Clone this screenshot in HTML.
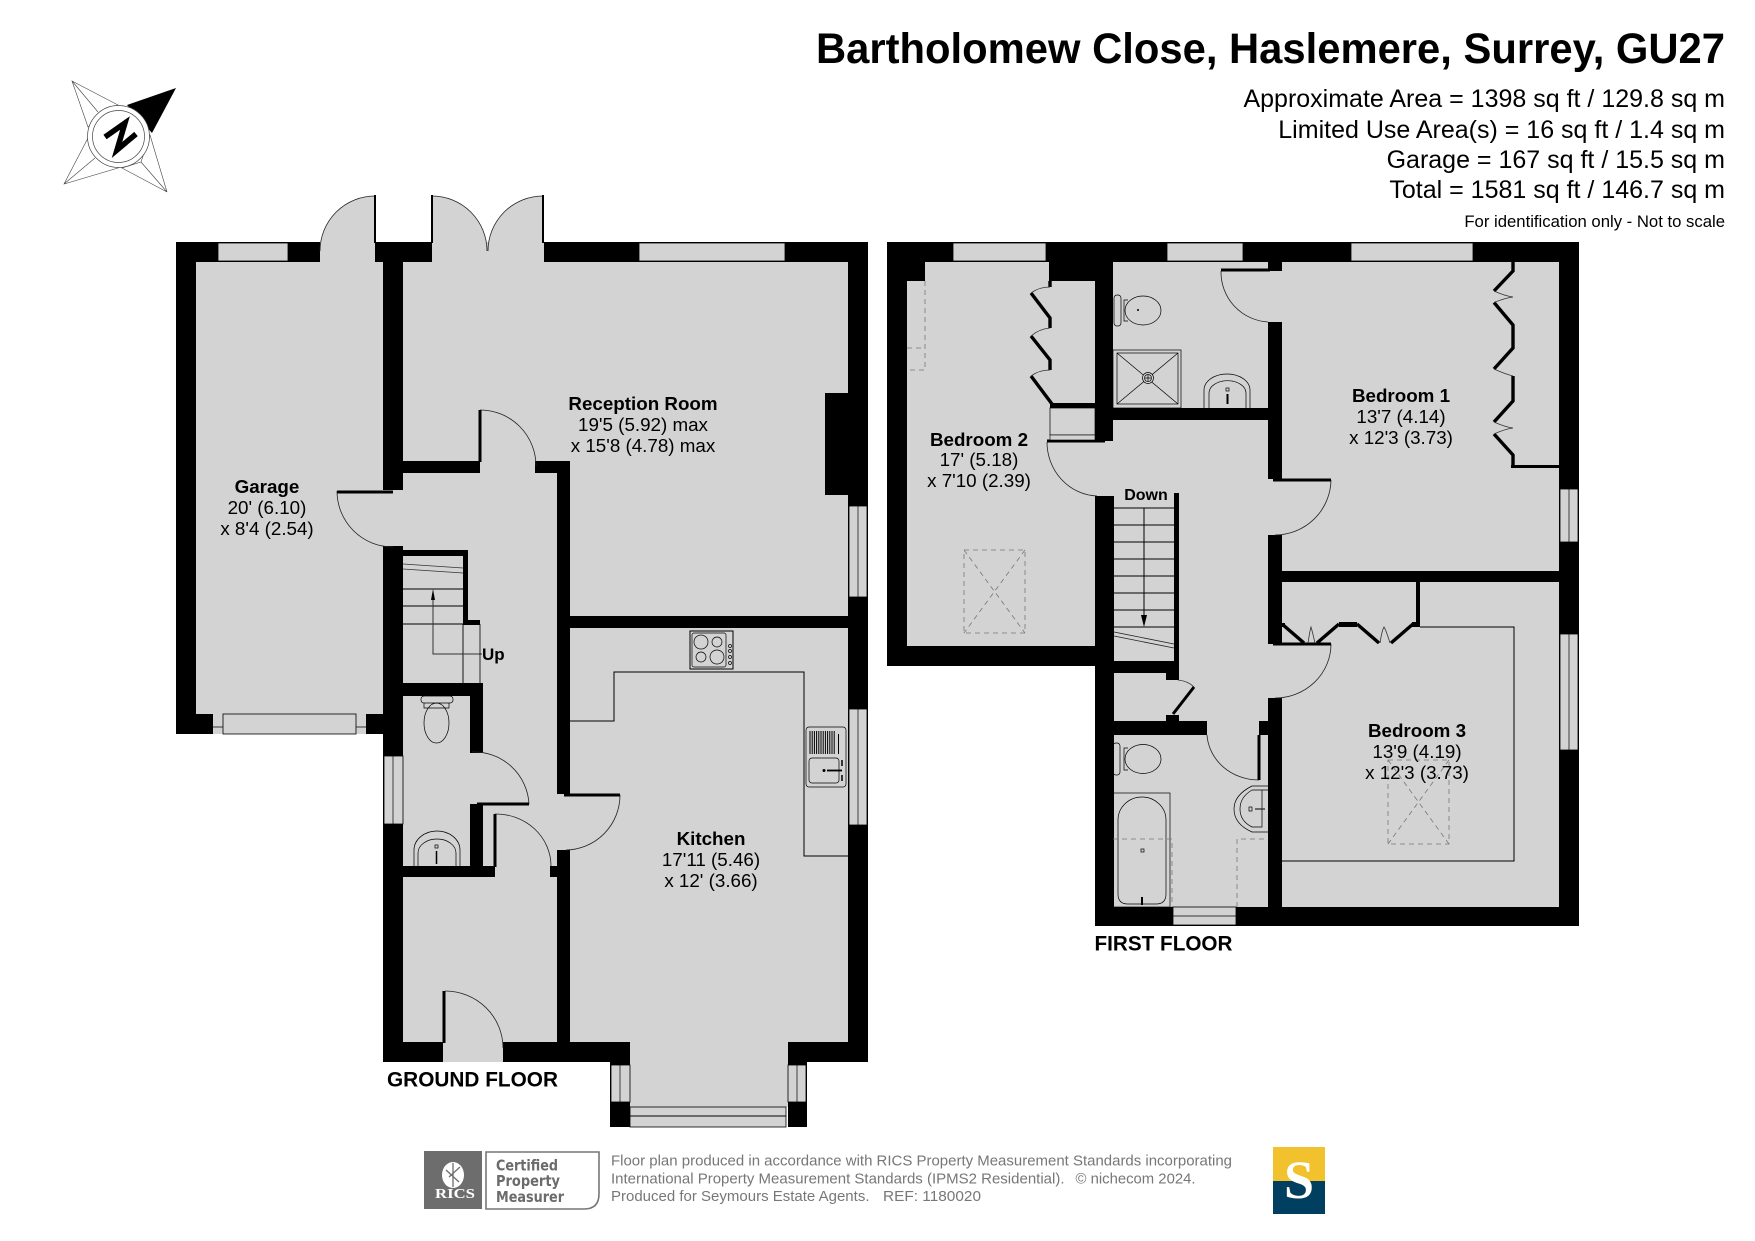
<!DOCTYPE html>
<html><head><meta charset="utf-8"><title>Bartholomew Close Floor Plan</title>
<style>
html,body{margin:0;padding:0;background:#fff}
svg{display:block}
text{font-family:"Liberation Sans",sans-serif;fill:#000}
.b{font-weight:700}
.m{text-anchor:middle;font-size:18.8px;dominant-baseline:middle}
.i{text-anchor:end;font-size:25px}
.w{fill:#d3d3d3;stroke:#000;stroke-width:.8}
.l{fill:none;stroke:#000;stroke-width:1}
.t{fill:none;stroke:#000;stroke-width:.7}
.df{fill:#d3d3d3;stroke:none}
.a{fill:none;stroke:#222;stroke-width:.8}
.dash{fill:none;stroke:#777;stroke-width:.8;stroke-dasharray:5 4}
.k{fill:none;stroke:#000;stroke-width:3.4}
.f{fill:#777;font-size:14.6px}
</style></head><body>
<svg width="1755" height="1241" viewBox="0 0 1755 1241" xmlns="http://www.w3.org/2000/svg">
<rect width="1755" height="1241" fill="#fff"/>

<!-- Title -->
<text class="b" x="1725" y="63" text-anchor="end" font-size="43" textLength="909" lengthAdjust="spacingAndGlyphs">Bartholomew Close, Haslemere, Surrey, GU27</text>
<text class="i" x="1725" y="107">Approximate Area = 1398 sq ft / 129.8 sq m</text>
<text class="i" x="1725" y="138">Limited Use Area(s) = 16 sq ft / 1.4 sq m</text>
<text class="i" x="1725" y="168">Garage = 167 sq ft / 15.5 sq m</text>
<text class="i" x="1725" y="198">Total = 1581 sq ft / 146.7 sq m</text>
<text x="1725" y="227" text-anchor="end" font-size="16.7">For identification only - Not to scale</text>

<!-- Compass -->
<g stroke="#444" stroke-width=".6" fill="#fff">
<path d="M72 81L118 105L88 127Z M72 81L98 112"/>
<path d="M64 184L88 138L118 168Z M64 184L95 158"/>
<path d="M167 192L141 162L122 168Z M167 192L150 135L141 162Z"/>
</g>
<path d="M176 88L127 105L152 133Z" fill="#000"/>
<circle cx="118.500" cy="136.500" r="31" fill="#fff" stroke="#444" stroke-width=".7"/>
<circle cx="118.500" cy="136.500" r="26" fill="#fff" stroke="#444" stroke-width=".7"/>
<path d="M105 137L125 123L117 150L136 134" fill="none" stroke="#000" stroke-width="5.500"/>

<!-- Ground floor fills -->
<g fill="#d3d3d3">
<rect x="196" y="262" width="187" height="452"/>
<rect x="403" y="262" width="445" height="199"/>
<rect x="557" y="461" width="291" height="155"/>
<rect x="383" y="472" width="174" height="570"/>
<rect x="570" y="628" width="278" height="414"/>
<rect x="630" y="1042" width="158" height="65"/>
<rect x="320" y="242" width="55" height="20"/>
<rect x="432" y="242" width="112" height="20"/>
<rect x="443" y="1042" width="60" height="20"/>
<rect x="383" y="490" width="20" height="56"/>
<rect x="480" y="461" width="55" height="12"/>
<rect x="557" y="794" width="13" height="56"/>
<rect x="213" y="714" width="153" height="20"/>
</g>
<!-- Ground floor walls -->
<g fill="#000">
<rect x="176" y="242" width="20" height="492"/>
<rect x="176" y="242" width="144" height="20"/>
<rect x="375" y="242" width="57" height="20"/>
<rect x="544" y="242" width="324" height="20"/>
<rect x="848" y="242" width="20" height="820"/>
<rect x="825" y="393" width="23" height="102"/>
<rect x="383" y="262" width="20" height="228"/>
<rect x="383" y="546" width="20" height="516"/>
<rect x="176" y="714" width="37" height="20"/>
<rect x="366" y="714" width="17" height="20"/>
<rect x="403" y="461" width="77" height="12"/>
<rect x="535" y="461" width="35" height="12"/>
<rect x="557" y="461" width="13" height="333"/>
<rect x="557" y="850" width="13" height="212"/>
<rect x="557" y="616" width="291" height="12"/>
<rect x="403" y="550" width="65" height="6"/>
<rect x="463" y="550" width="5" height="70"/>
<rect x="463" y="620" width="17" height="5"/>
<rect x="403" y="683" width="80" height="13"/>
<rect x="470" y="696" width="13" height="57"/>
<rect x="470" y="804" width="13" height="62"/>
<rect x="403" y="866" width="92" height="11"/>
<rect x="550" y="866" width="20" height="11"/>
<rect x="383" y="1042" width="60" height="20"/>
<rect x="503" y="1042" width="127" height="20"/>
<rect x="788" y="1042" width="80" height="20"/>
<rect x="610" y="1062" width="20" height="65"/>
<rect x="788" y="1062" width="19" height="65"/>
</g>
<!-- Ground windows -->
<rect class="w" x="218" y="243" width="70" height="18"/>
<rect class="w" x="639" y="243" width="146" height="18"/>
<rect class="w" x="849" y="506" width="18" height="91"/><path class="t" d="M858 506V597"/>
<rect class="w" x="849" y="709" width="18" height="116"/><path class="t" d="M858 709V825"/>
<rect class="w" x="223" y="714" width="133" height="20"/>
<path d="M213 727H223M356 727H366" class="t"/>
<rect class="w" x="384" y="756" width="19" height="68"/><path class="t" d="M393 756V824"/>
<rect class="w" x="611" y="1065" width="19" height="37"/><path class="t" d="M620 1065V1102"/>
<rect class="w" x="788" y="1065" width="18" height="37"/><path class="t" d="M797 1065V1102"/>
<rect class="w" x="630" y="1107" width="156" height="20"/><path class="l" d="M630 1116H786"/>

<!-- Ground doors -->
<path class="df" d="M320 251A55 55 0 0 1 375 196V251Z"/><path class="a" d="M320 251A55 55 0 0 1 375 196"/>
<path class="df" d="M487 251A55 55 0 0 0 432 196V251Z"/><path class="a" d="M487 251A55 55 0 0 0 432 196"/>
<path class="df" d="M488 251A55 55 0 0 1 543 196V251Z"/><path class="a" d="M488 251A55 55 0 0 1 543 196"/>
<path class="a" d="M536 466A56 56 0 0 0 480 410"/>
<path class="a" d="M337 491A56 56 0 0 0 393 547"/>
<path class="a" d="M529 804A55 55 0 0 0 472 752"/>
<path class="a" d="M551 866A55 52 0 0 0 495 814"/>
<path class="a" d="M620 795A55 55 0 0 1 566 850"/>
<path class="df" d="M503 1048A58 57 0 0 0 445 991V1048Z"/><path class="a" d="M503 1048A58 57 0 0 0 445 991"/>
<g stroke="#000" fill="none">
<path d="M375 195V243M432 195V243M543 195V243" stroke-width="2"/>
<path d="M480 410V462" stroke-width="3"/>
<path d="M337 492H393" stroke-width="3"/>
<path d="M477 804H529" stroke-width="3"/>
<path d="M495 814V867" stroke-width="3"/>
<path d="M564 795H620" stroke-width="3"/>
<path d="M444 991V1043" stroke-width="3"/>
</g>

<!-- Stairs ground -->
<path d="M403 564L463 568M403 569L463 573" stroke="#333" fill="none" stroke-width=".7"/>
<path d="M403 589H463M403 606H463M403 624H480M463 624V683" stroke="#000" fill="none" stroke-width=".9"/>
<path d="M433 596V654H482" stroke="#333" fill="none" stroke-width="1"/>
<path d="M433 589L431 600H435Z" fill="#000"/>
<path d="M480 624V683" stroke="#000" stroke-width=".8"/>

<!-- Kitchen units -->
<path class="l" d="M570 721H614V672H804V856H848"/>
<rect x="690" y="631" width="43" height="38" fill="#d3d3d3" stroke="#000"/>
<rect x="692" y="633" width="34" height="34" rx="2" class="t"/>
<g class="t">
<circle cx="701" cy="642" r="7"/><circle cx="717" cy="642" r="5"/><circle cx="701" cy="657" r="5"/><circle cx="717" cy="657" r="7"/>
<circle cx="730" cy="646" r="1.500"/><circle cx="730" cy="651" r="1.500"/><circle cx="730" cy="657" r="1.500"/><circle cx="730" cy="663" r="1.500"/>
</g>
<rect x="806" y="727" width="40" height="60" rx="3" class="t"/>
<path d="M810 731V754M812.200 731V754M814.400 731V754M816.600 731V754M818.800 731V754M821 731V754M823.200 731V754M825.400 731V754M827.600 731V754M829.800 731V754M832 731V754M834.200 731V754M838.500 734V754" stroke="#000" stroke-width="1"/>
<rect x="809" y="758" width="30" height="25" rx="3" class="t"/>
<path d="M827 770.500H842" stroke="#000" stroke-width="1.800"/>
<circle cx="824" cy="770.500" r="1.500"/><path d="M842 760V766M842 775V781" stroke="#000" stroke-width="1.500"/>

<!-- WC fixtures -->
<g class="t" stroke-width=".8">
<rect x="421" y="696" width="32" height="7" rx="3"/>
<path d="M424 703V708H449V703"/>
<ellipse cx="436.500" cy="723" rx="12.500" ry="20"/>
<path d="M414 866V850A23 19 0 0 1 460 850V866M418 866V853A19 14 0 0 1 456 853V866"/>
</g>
<rect x="435" y="845" width="3" height="3" class="t"/>
<path d="M436.500 851V864" stroke="#000" stroke-width="1.500"/>

<!-- Labels ground -->
<text class="m b" x="267" y="488">Garage</text>
<text class="m" x="267" y="509">20' (6.10)</text>
<text class="m" x="267" y="530">x 8'4 (2.54)</text>
<text class="m b" x="643" y="405">Reception Room</text>
<text class="m" x="643" y="426">19'5 (5.92) max</text>
<text class="m" x="643" y="447">x 15'8 (4.78) max</text>
<text class="m b" x="711" y="840">Kitchen</text>
<text class="m" x="711" y="861">17'11 (5.46)</text>
<text class="m" x="711" y="882">x 12' (3.66)</text>
<text class="b" x="482" y="660" font-size="17">Up</text>
<text class="b" x="387" y="1086.500" font-size="20.800">GROUND FLOOR</text>

<!-- First floor fills -->
<g fill="#d3d3d3">
<rect x="907" y="262" width="190" height="384"/>
<rect x="1113" y="262" width="446" height="645"/>
<rect x="1095" y="441" width="20" height="55"/>
<rect x="1173" y="907" width="63" height="19"/>
</g>
<!-- First floor walls -->
<g fill="#000">
<rect x="887" y="242" width="692" height="20"/>
<rect x="887" y="242" width="20" height="423"/>
<rect x="887" y="646" width="226" height="20"/>
<rect x="907" y="262" width="18" height="19"/>
<rect x="1049" y="262" width="64" height="19"/>
<rect x="1095" y="262" width="18" height="179"/>
<rect x="1050" y="403" width="45" height="5"/>
<rect x="1095" y="496" width="19" height="430"/>
<rect x="1095" y="907" width="484" height="19"/>
<rect x="1559" y="242" width="20" height="684"/>
<rect x="1113" y="408" width="155" height="12"/>
<rect x="1268" y="262" width="14" height="9"/>
<rect x="1268" y="322" width="14" height="157"/>
<rect x="1268" y="535" width="14" height="109"/>
<rect x="1268" y="698" width="14" height="228"/>
<rect x="1282" y="571" width="277" height="11"/>
<rect x="1416" y="582" width="4" height="45"/>
<rect x="1511" y="465" width="48" height="3"/>
<rect x="1174" y="493" width="5" height="187"/>
<rect x="1114" y="661" width="60" height="12"/>
<rect x="1166" y="673" width="13" height="7"/>
<rect x="1166" y="715" width="13" height="6"/>
<rect x="1114" y="721" width="93" height="14"/>
<rect x="1259" y="721" width="9" height="14"/>
<rect x="1339" y="622" width="18" height="5"/>
<rect x="1412" y="622" width="8" height="5"/>
<rect x="1281" y="623" width="4" height="4"/>
</g>
<!-- First windows -->
<rect class="w" x="953" y="243" width="93" height="18"/>
<rect class="w" x="1167" y="243" width="76" height="18"/>
<rect class="w" x="1351" y="243" width="122" height="18"/>
<rect class="w" x="1560" y="489" width="18" height="53"/><path class="t" d="M1569 489V542"/>
<rect class="w" x="1560" y="634" width="18" height="116"/><path class="t" d="M1569 634V750"/>
<rect class="w" x="1173" y="907" width="63" height="18"/><path class="t" d="M1173 916H1236"/>

<!-- First doors -->
<path class="a" d="M1221 271A50 50 0 0 0 1268 322"/>
<path class="a" d="M1047 442A52 54 0 0 0 1097 496"/>
<path class="a" d="M1331 480A56 56 0 0 1 1275 535"/>
<path class="a" d="M1331 644A56 54 0 0 1 1275 698"/>
<path class="a" d="M1207 735A52 48 0 0 0 1259 780"/>
<path d="M1178 680Q1188 681 1194 687" fill="none" stroke="#333" stroke-width=".8"/>
<g stroke="#000" fill="none" stroke-width="3">
<path d="M1221 270H1270"/>
<path d="M1047 441H1105"/>
<path d="M1273 480H1331"/>
<path d="M1273 644H1331"/>
<path d="M1259 735V780"/>
<path d="M1194 687L1173 714"/>
</g>
<path d="M1259 733H1268" stroke="#000" stroke-width="3"/>

<!-- Wardrobes -->
<g class="k">
<path d="M1513 262V271L1494 291"/>
<path d="M1494 302.500L1513 325V348L1494 369"/>
<path d="M1513 376V401L1494 422"/>
<path d="M1494 434L1513 455V467"/>
<path d="M1050 281V287M1031 293L1050 318V328M1031 336L1050 360V370M1031 376L1052 404"/>
<path d="M1282 624L1304 643M1317 643L1339 624M1357 624L1379 643M1391 643L1413 624"/>
</g>
<g stroke="#333" fill="none" stroke-width=".8">
<path d="M1494 291Q1505 296 1513 297Q1505 298 1494 302.500"/>
<path d="M1494 369Q1505 374 1513 376"/>
<path d="M1494 422Q1505 427 1513 428Q1505 429 1494 434"/>
<path d="M1050 287Q1039 287 1031 293M1050 328Q1039 329 1031 336M1050 370Q1039 370 1031 376"/>
<path d="M1308 643Q1310 630 1311 627Q1312 630 1315 643M1380 643Q1382 630 1384 627Q1386 630 1390 643"/>
</g>
<rect x="1050" y="408" width="45" height="27" class="t"/>
<rect x="1050" y="435" width="45" height="5" fill="#d3d3d3" stroke="#000" stroke-width=".6"/>
<path class="l" d="M1420 627H1514V861H1282"/>

<!-- Stairs first -->
<g stroke="#000" stroke-width="1" fill="none">
<path d="M1114 508H1174M1114 525H1174M1114 542H1174M1114 559H1174M1114 576H1174M1114 593H1174M1114 610H1174M1114 627H1174"/>
<path d="M1144 508V617"/>
</g>
<path d="M1144 627L1141 615H1147Z" fill="#000"/>
<path d="M1114 632L1174 644M1114 636L1174 648" stroke="#222" stroke-width=".8"/>
<text class="b" x="1146" y="496" text-anchor="middle" font-size="16" dominant-baseline="middle">Down</text>

<!-- Ensuite -->
<g class="t" stroke-width=".8">
<rect x="1113" y="350" width="68" height="58"/>
<rect x="1117" y="353" width="61" height="51"/>
<path d="M1117 353L1178 404M1178 353L1117 404"/>
<circle cx="1148" cy="378" r="5.500" fill="#d3d3d3"/><circle cx="1148" cy="378" r="3.500"/>
<path d="M1145 378H1151M1148 375V381"/>
<rect x="1114" y="295" width="7" height="31" rx="3"/>
<ellipse cx="1143" cy="310.500" rx="18" ry="14.500"/>
<path d="M1128 300H1124V321H1128"/>
<path d="M1204 408V390A23 16 0 0 1 1250 390V408M1209 408V393A18 12 0 0 1 1246 393V408"/>
</g>
<rect x="1226" y="388" width="3" height="3" class="t"/>
<path d="M1227.500 394V404" stroke="#000" stroke-width="2"/>
<circle cx="1138" cy="310" r="1" fill="#000"/>

<!-- Bathroom -->
<g class="t" stroke-width=".8">
<rect x="1113" y="743" width="7" height="32" rx="3"/>
<ellipse cx="1143" cy="759" rx="18" ry="14.500"/>
<path d="M1128 748H1124V770H1128"/>
<rect x="1113" y="793" width="57" height="114"/>
<path d="M1118 820A24 23 0 0 1 1166 820V894Q1166 904 1156 904H1128Q1118 904 1118 894Z"/>
<path d="M1268 786H1252Q1234 795 1234 809Q1234 824 1252 832H1268M1268 790H1252Q1240 797 1240 809Q1240 821 1252 827H1262V790"/>
</g>
<rect x="1141" y="849" width="3" height="3" class="t"/>
<path d="M1142 897V905" stroke="#000" stroke-width="2"/>
<rect x="1249" y="807" width="3" height="4" class="t"/>
<path d="M1255 809H1265" stroke="#222" stroke-width="1.200"/>

<!-- Dashes / skylights -->
<path class="dash" d="M925 281V370H907M907 348H925"/>
<rect class="dash" x="964" y="550" width="61" height="83"/>
<path class="dash" d="M964 550L1025 633M1025 550L964 633"/>
<path class="dash" d="M1113 839H1172V907M1237 907V839H1268"/>

<!-- Labels first -->
<text class="m b" x="979" y="441">Bedroom 2</text>
<text class="m" x="979" y="461">17' (5.18)</text>
<text class="m" x="979" y="482">x 7'10 (2.39)</text>
<text class="m b" x="1401" y="397">Bedroom 1</text>
<text class="m" x="1401" y="418">13'7 (4.14)</text>
<text class="m" x="1401" y="439">x 12'3 (3.73)</text>
<rect class="dash" x="1388" y="760" width="61" height="84"/>
<path class="dash" d="M1388 760L1449 844M1449 760L1388 844"/>
<text class="m b" x="1417" y="732">Bedroom 3</text>
<text class="m" x="1417" y="753">13'9 (4.19)</text>
<text class="m" x="1417" y="774">x 12'3 (3.73)</text>
<text class="b" x="1094.500" y="950.500" font-size="21" textLength="138" lengthAdjust="spacingAndGlyphs">FIRST FLOOR</text>

<!-- Footer -->
<rect x="424" y="1151" width="58" height="58" fill="#6d6d6d"/>
<ellipse cx="453" cy="1175" rx="11" ry="13" fill="#fff"/>
<path d="M453 1163V1187M446 1170L459 1182M460 1167L449 1177" stroke="#6d6d6d" stroke-width="1.300"/>
<text x="455" y="1198" text-anchor="middle" font-size="14" font-weight="700" style="font-family:'Liberation Serif',serif;fill:#fff" textLength="40" lengthAdjust="spacingAndGlyphs">RICS</text>
<path d="M486 1152H599V1194Q599 1209 584 1209H486Z" fill="#fff" stroke="#777" stroke-width="1.600"/>
<text x="496" y="1170.500" font-size="15.500" font-weight="700" style="font-family:'DejaVu Sans',sans-serif;fill:#6b6b6b" textLength="62" lengthAdjust="spacingAndGlyphs">Certified</text>
<text x="496" y="1186" font-size="15.500" font-weight="700" style="font-family:'DejaVu Sans',sans-serif;fill:#6b6b6b" textLength="64" lengthAdjust="spacingAndGlyphs">Property</text>
<text x="496" y="1202" font-size="15.500" font-weight="700" style="font-family:'DejaVu Sans',sans-serif;fill:#6b6b6b" textLength="68" lengthAdjust="spacingAndGlyphs">Measurer</text>

<text class="f" x="611" y="1165.500" textLength="621" lengthAdjust="spacingAndGlyphs">Floor plan produced in accordance with RICS Property Measurement Standards incorporating</text>
<text class="f" x="611" y="1183.500" textLength="453.500" lengthAdjust="spacingAndGlyphs">International Property Measurement Standards (IPMS2 Residential).</text>
<text class="f" x="1075.500" y="1183.500" textLength="120" lengthAdjust="spacingAndGlyphs">© nichecom 2024.</text>
<text class="f" x="611" y="1201" textLength="258.500" lengthAdjust="spacingAndGlyphs">Produced for Seymours Estate Agents.</text>
<text class="f" x="883" y="1201" textLength="98" lengthAdjust="spacingAndGlyphs">REF:  1180020</text>

<rect x="1273" y="1147" width="52" height="34" fill="#f2c12e"/>
<rect x="1273" y="1181" width="52" height="33" fill="#003f5f"/>
<text x="1299" y="1198" text-anchor="middle" font-size="54" font-weight="700" style="font-family:'Liberation Serif',serif;fill:#fff">S</text>
</svg>
</body></html>
